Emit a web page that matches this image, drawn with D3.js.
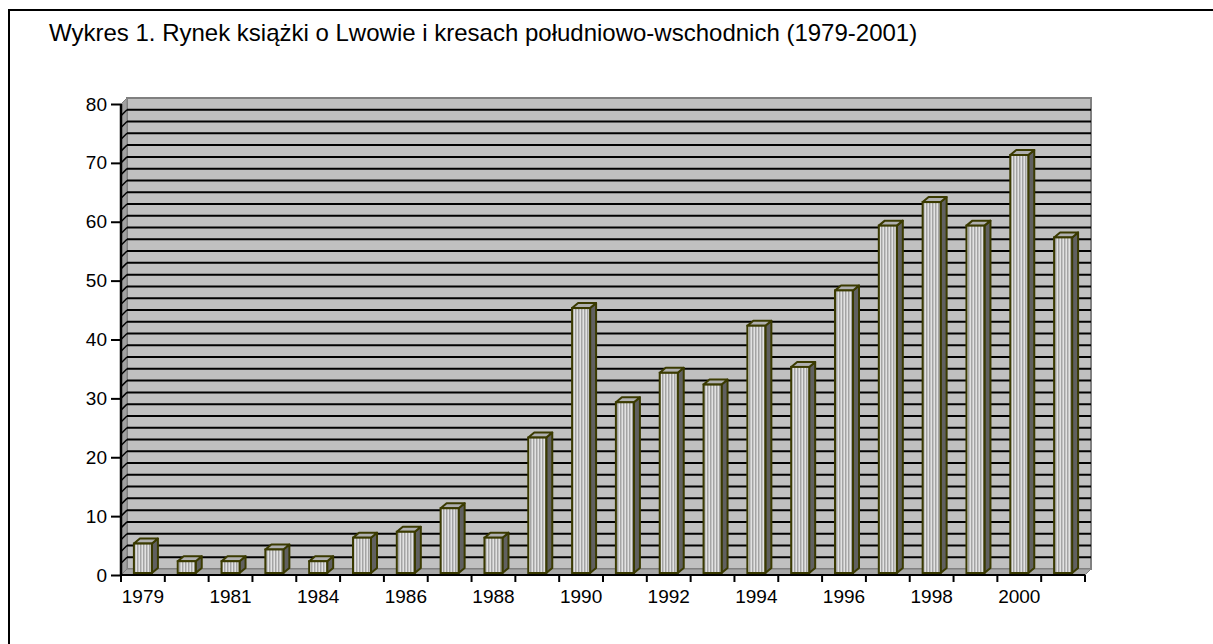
<!DOCTYPE html>
<html><head><meta charset="utf-8">
<script src="https://cdn.jsdelivr.net/npm/d3@7"></script>
<style>
html,body{margin:0;padding:0;background:#fff;overflow:hidden}
text{font-family:"Liberation Sans",Arial,sans-serif}
</style></head>
<body>
<svg id="c" width="1213" height="644"></svg>
<script>
const title = "Wykres 1. Rynek książki o Lwowie i kresach południowo-wschodnich (1979-2001)";
const categories = ["1979","1980","1981","1982","1984","1985","1986","1987","1988","1989","1990","1991","1992","1993","1994","1995","1996","1997","1998","1999","2000","2001"];
const values = [5,2,2,4,2,6,7,11,6,23,45,29,34,32,42,35,48,59,63,59,71,57];
const xLabels = ["1979","1981","1984","1986","1988","1990","1992","1994","1996","1998","2000"];
const yTicks = [0,10,20,30,40,50,60,70,80];
const gridValues = d3.range(0, 80, 2);

const svg = d3.select("#c");
const L = 121, R = 1085, T = 104, B = 575;
const DX = 6, DY = -6;
const x = d3.scaleBand().domain(categories).range([L, R]).padding(0);
const y = d3.scaleLinear().domain([0, 80]).range([B, T]);

// frame
svg.append("rect").attr("x",9).attr("y",10).attr("width",1230).attr("height",660)
  .attr("fill","none").attr("stroke","#000").attr("stroke-width",2);

svg.append("text").attr("x",49).attr("y",41).attr("font-size",24).attr("fill","#000").text(title);

// pattern
const defs = svg.append("defs");
const pat = defs.append("pattern").attr("id","stripe").attr("patternUnits","userSpaceOnUse")
  .attr("width",3).attr("height",4);
pat.append("rect").attr("width",3).attr("height",4).attr("fill","#c4c4c4");
pat.append("rect").attr("x",1).attr("width",1).attr("height",4).attr("fill","#e2e2e2");
pat.append("rect").attr("x",2).attr("width",1).attr("height",4).attr("fill","#a4a4a4");

// back wall
svg.append("rect").attr("x",L+DX).attr("y",T+DY).attr("width",R-L).attr("height",B-T)
  .attr("fill","#c0c0c0").attr("stroke","#808080").attr("stroke-width",2);
// side wall
svg.append("polygon").attr("points",`${L},${T} ${L+DX},${T+DY} ${L+DX},${B+DY} ${L},${B}`)
  .attr("fill","#a0a0a0").attr("stroke","#808080").attr("stroke-width",1);
// floor
svg.append("polygon").attr("points",`${L},${B} ${L+DX},${B+DY} ${R+DX},${B+DY} ${R},${B}`)
  .attr("fill","#a8a8a8").attr("stroke","#808080").attr("stroke-width",1);

// grid lines
svg.append("g").selectAll("line").data(gridValues.filter(v=>v>0)).join("line")
  .attr("x1",L+DX).attr("x2",R+DX).attr("y1",d=>y(d)+DY).attr("y2",d=>y(d)+DY)
  .attr("stroke","#000").attr("stroke-width",2);
svg.append("g").selectAll("line").data(gridValues.filter(v=>v>0)).join("line")
  .attr("x1",L).attr("x2",L+DX).attr("y1",d=>y(d)).attr("y2",d=>y(d)+DY)
  .attr("stroke","#000").attr("stroke-width",1.5);

// bars
const FW = 18, BDX = 6, BDY = -5, OFF = -2;
const bars = svg.append("g").selectAll("g").data(categories.map((c,i)=>({c,v:values[i]}))).join("g");
bars.each(function(d){
  const g = d3.select(this);
  const cx = x(d.c) + x.bandwidth()/2;
  const x0 = cx - FW/2, x1 = cx + FW/2;
  const yb = y(0) + OFF, yt = y(d.v) + OFF;
  const stroke = "#3a3a00";
  g.append("polygon").attr("points",`${x1},${yt} ${x1+BDX},${yt+BDY} ${x1+BDX},${yb+BDY} ${x1},${yb}`)
    .attr("fill","#606060").attr("stroke",stroke).attr("stroke-width",2).attr("stroke-linejoin","round");
  g.append("polygon").attr("points",`${x0},${yt} ${x0+BDX},${yt+BDY} ${x1+BDX},${yt+BDY} ${x1},${yt}`)
    .attr("fill","#b0b0b0").attr("stroke",stroke).attr("stroke-width",2).attr("stroke-linejoin","round");
  g.append("rect").attr("x",x0).attr("y",yt).attr("width",FW).attr("height",yb-yt)
    .attr("fill","url(#stripe)").attr("stroke",stroke).attr("stroke-width",2);
});

// y axis
const ya = svg.append("g").attr("transform",`translate(${L},0)`)
  .call(d3.axisLeft(y).tickValues(yTicks).tickSize(10).tickPadding(4).tickFormat(d3.format("d")));
ya.select(".domain").attr("stroke","#000").attr("stroke-width",2.5).attr("d",`M0,${y(80)}V${y(0)}`);
ya.selectAll(".tick line").attr("stroke","#000").attr("stroke-width",2);
ya.selectAll("text").attr("font-size",19).attr("fill","#000").attr("font-family","Liberation Sans, Arial, sans-serif");

// x axis
svg.append("line").attr("x1",L).attr("x2",R).attr("y1",B).attr("y2",B).attr("stroke","#000").attr("stroke-width",2);
const bounds = categories.map(c=>x(c)).concat([R]);
svg.append("g").selectAll("line").data(bounds).join("line")
  .attr("x1",d=>d).attr("x2",d=>d).attr("y1",B).attr("y2",B+7).attr("stroke","#000").attr("stroke-width",2);
const xa = svg.append("g").attr("transform",`translate(0,${B})`)
  .call(d3.axisBottom(x).tickValues(categories.filter(c=>xLabels.includes(c))).tickSize(0).tickPadding(15));
xa.select(".domain").remove();
xa.selectAll("text").attr("font-size",19).attr("fill","#000").attr("font-family","Liberation Sans, Arial, sans-serif");
</script>
</body></html>
